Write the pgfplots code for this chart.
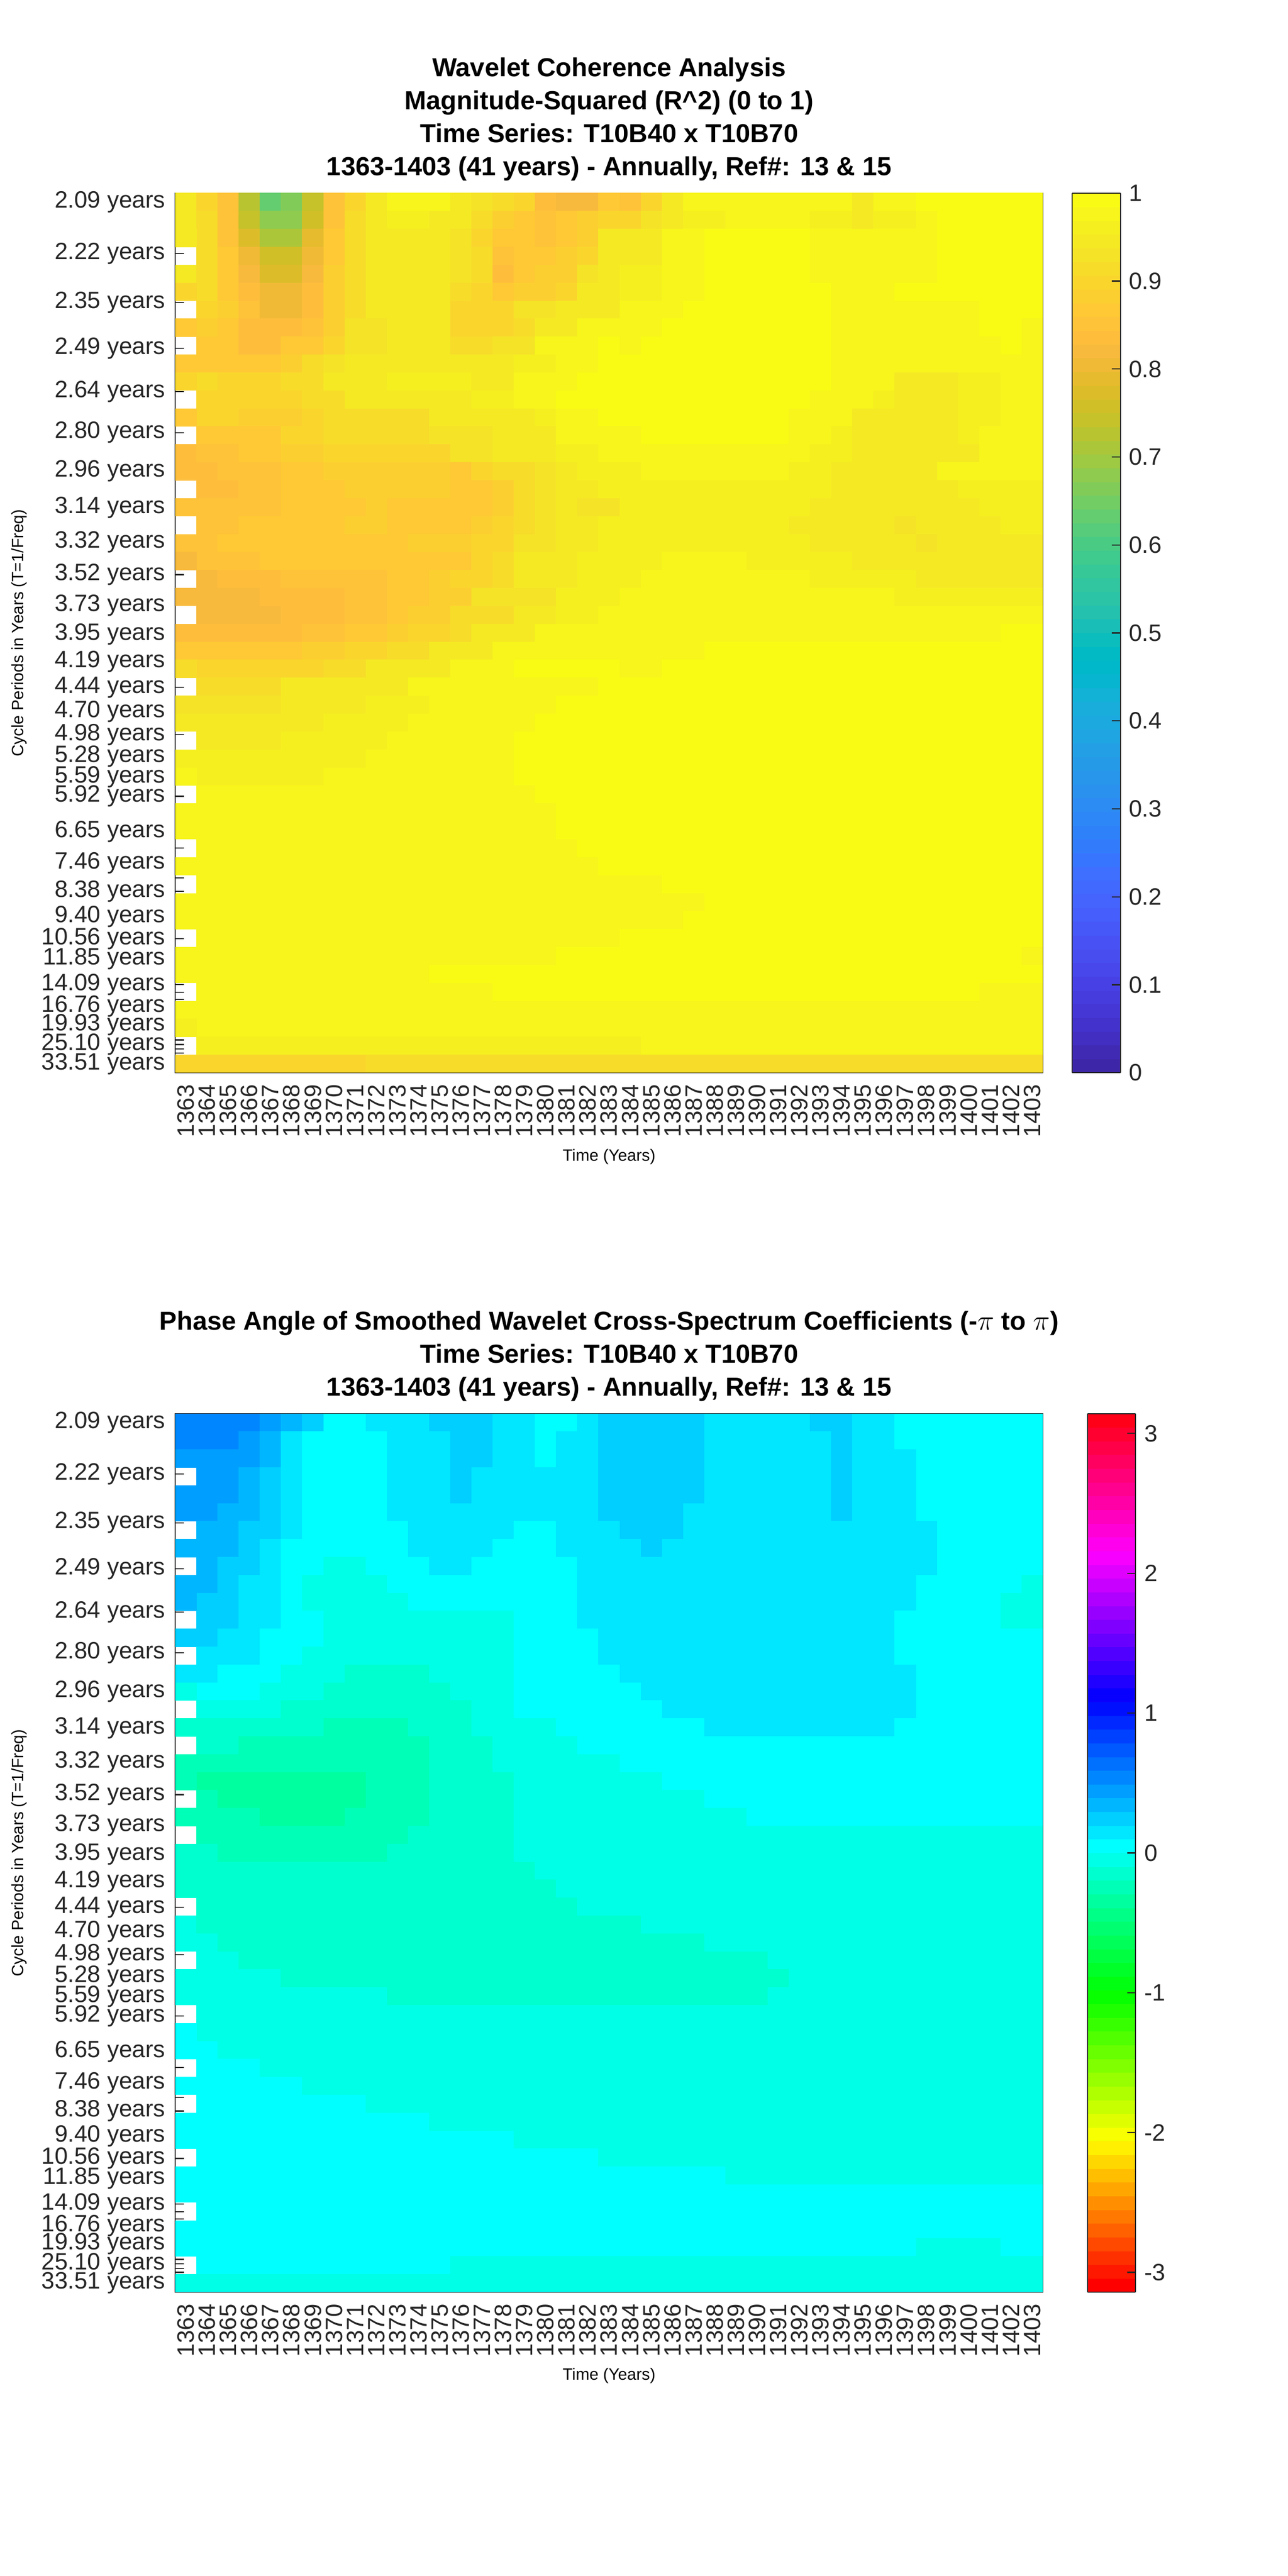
\documentclass[border=0pt]{standalone}
\usepackage{fontspec}
\setmainfont{Liberation Sans}
\usepackage{pgfplots}
\usepackage{pgfplotstable}
\pgfplotsset{compat=1.18}
\definecolor{ax}{rgb}{0.15,0.15,0.15}
\pgfdeclareplotmark{cell}{\pgfpathrectangle{\pgfpoint{-6.495bp}{-5.52bp}}{\pgfpoint{12.99bp}{11.04bp}}\pgfusepathqfill}
\pgfplotsset{
 colormap={parula}{
 rgb=(0.2422,0.1504,0.6603) rgb=(0.2504,0.1650,0.7076) rgb=(0.2578,0.1818,0.7511) rgb=(0.2647,0.1978,0.7952)
 rgb=(0.2706,0.2147,0.8364) rgb=(0.2751,0.2342,0.8710) rgb=(0.2783,0.2559,0.8991) rgb=(0.2803,0.2782,0.9221)
 rgb=(0.2813,0.3006,0.9414) rgb=(0.2810,0.3228,0.9579) rgb=(0.2795,0.3447,0.9717) rgb=(0.2760,0.3667,0.9829)
 rgb=(0.2699,0.3892,0.9906) rgb=(0.2602,0.4123,0.9952) rgb=(0.2440,0.4358,0.9988) rgb=(0.2206,0.4603,0.9973)
 rgb=(0.1963,0.4847,0.9892) rgb=(0.1834,0.5074,0.9798) rgb=(0.1786,0.5289,0.9682) rgb=(0.1764,0.5499,0.9520)
 rgb=(0.1687,0.5703,0.9359) rgb=(0.1540,0.5902,0.9218) rgb=(0.1460,0.6091,0.9079) rgb=(0.1380,0.6276,0.8973)
 rgb=(0.1248,0.6459,0.8883) rgb=(0.1113,0.6635,0.8763) rgb=(0.0952,0.6798,0.8598) rgb=(0.0689,0.6948,0.8394)
 rgb=(0.0297,0.7082,0.8163) rgb=(0.0036,0.7203,0.7917) rgb=(0.0067,0.7312,0.7660) rgb=(0.0433,0.7411,0.7394)
 rgb=(0.0964,0.7500,0.7120) rgb=(0.1408,0.7584,0.6842) rgb=(0.1717,0.7670,0.6554) rgb=(0.1938,0.7758,0.6251)
 rgb=(0.2161,0.7843,0.5923) rgb=(0.2470,0.7918,0.5567) rgb=(0.2906,0.7973,0.5188) rgb=(0.3406,0.8008,0.4789)
 rgb=(0.3909,0.8029,0.4354) rgb=(0.4456,0.8024,0.3909) rgb=(0.5044,0.7993,0.3480) rgb=(0.5616,0.7942,0.3045)
 rgb=(0.6174,0.7876,0.2612) rgb=(0.6720,0.7793,0.2227) rgb=(0.7242,0.7698,0.1910) rgb=(0.7738,0.7598,0.1646)
 rgb=(0.8203,0.7498,0.1535) rgb=(0.8634,0.7406,0.1596) rgb=(0.9035,0.7330,0.1774) rgb=(0.9393,0.7288,0.2100)
 rgb=(0.9728,0.7298,0.2394) rgb=(0.9956,0.7434,0.2371) rgb=(0.9970,0.7659,0.2199) rgb=(0.9952,0.7893,0.2028)
 rgb=(0.9892,0.8136,0.1885) rgb=(0.9786,0.8386,0.1766) rgb=(0.9676,0.8639,0.1643) rgb=(0.9610,0.8890,0.1537)
 rgb=(0.9597,0.9135,0.1423) rgb=(0.9628,0.9373,0.1265) rgb=(0.9691,0.9606,0.1064) rgb=(0.9769,0.9839,0.0805)},
 colormap={hsvm}{
 rgb=(1,0,0) rgb=(1,0.09375,0) rgb=(1,0.1875,0) rgb=(1,0.28125,0) rgb=(1,0.375,0) rgb=(1,0.46875,0) rgb=(1,0.5625,0) rgb=(1,0.65625,0)
 rgb=(1,0.75,0) rgb=(1,0.84375,0) rgb=(1,0.9375,0) rgb=(0.96875,1,0) rgb=(0.875,1,0) rgb=(0.78125,1,0) rgb=(0.6875,1,0) rgb=(0.59375,1,0)
 rgb=(0.5,1,0) rgb=(0.40625,1,0) rgb=(0.3125,1,0) rgb=(0.21875,1,0) rgb=(0.125,1,0) rgb=(0.03125,1,0) rgb=(0,1,0.0625) rgb=(0,1,0.15625)
 rgb=(0,1,0.25) rgb=(0,1,0.34375) rgb=(0,1,0.4375) rgb=(0,1,0.53125) rgb=(0,1,0.625) rgb=(0,1,0.71875) rgb=(0,1,0.8125) rgb=(0,1,0.90625)
 rgb=(0,1,1) rgb=(0,0.90625,1) rgb=(0,0.8125,1) rgb=(0,0.71875,1) rgb=(0,0.625,1) rgb=(0,0.53125,1) rgb=(0,0.4375,1) rgb=(0,0.34375,1)
 rgb=(0,0.25,1) rgb=(0,0.15625,1) rgb=(0,0.0625,1) rgb=(0.03125,0,1) rgb=(0.125,0,1) rgb=(0.21875,0,1) rgb=(0.3125,0,1) rgb=(0.40625,0,1)
 rgb=(0.5,0,1) rgb=(0.59375,0,1) rgb=(0.6875,0,1) rgb=(0.78125,0,1) rgb=(0.875,0,1) rgb=(0.96875,0,1) rgb=(1,0,0.9375) rgb=(1,0,0.84375)
 rgb=(1,0,0.75) rgb=(1,0,0.65625) rgb=(1,0,0.5625) rgb=(1,0,0.46875) rgb=(1,0,0.375) rgb=(1,0,0.28125) rgb=(1,0,0.1875) rgb=(1,0,0.09375)},
 wave/.style={
  scale only axis, width=526.375bp,
  xmin=1362.5, xmax=1403.5, ymin=-0.5, ymax=48.5, y dir=reverse,
  axis on top, axis line style={ax,line width=0.6bp},
  tick align=inside, tick pos=both, xticklabel pos=bottom, yticklabel pos=left,
  major tick length=5.25bp, every tick/.style={ax,line width=0.7bp},
  xtick={1363,...,1403},
  xticklabels={1363,1364,1365,1366,1367,1368,1369,1370,1371,1372,1373,1374,1375,1376,1377,1378,1379,1380,1381,1382,1383,1384,1385,1386,1387,1388,1389,1390,1391,1392,1393,1394,1395,1396,1397,1398,1399,1400,1401,1402,1403},
  xticklabel style={rotate=90,anchor=east,inner sep=0pt,xshift=-7bp,font=\fontsize{14.35bp}{16bp}\selectfont,text=ax},
  ytick={0,2.874,5.586,8.146,10.563,12.843,14.996,17.028,18.946,20.756,22.465,24.078,25.6,27.037,28.393,29.673,30.881,32.022,33.098,34.114,35.073,35.978,36.832,37.639,38.4,39.118,39.797,40.437,41.040,41.611,42.149,42.657,43.137,43.589,44.016,44.420,44.8,45.159,45.498,45.818,46.120,46.406,46.674,46.928,47.168,47.394,47.608,47.810,48},
  yticklabels={2.09 years,2.22 years,2.35 years,2.49 years,2.64 years,2.80 years,2.96 years,3.14 years,3.32 years,3.52 years,3.73 years,3.95 years,4.19 years,4.44 years,4.70 years,4.98 years,5.28 years,5.59 years,5.92 years,,6.65 years,,7.46 years,,8.38 years,,9.40 years,,10.56 years,,11.85 years,,,14.09 years,,,16.76 years,,,19.93 years,,,,25.10 years,,,,,33.51 years},
  yticklabel style={font=\fontsize{14.35bp}{16bp}\selectfont,text=ax,inner sep=0pt,xshift=-6bp},
  xlabel={Time (Years)}, ylabel={Cycle Periods in Years (T=1/Freq)},
  label style={font=\fontsize{15.8bp}{18bp}\selectfont,text=ax},
  every axis x label/.style={at={(axis description cs:0.5,-0.0953)},anchor=center},
  every axis y label/.style={at={(axis description cs:-0.180,0.5)},rotate=90,anchor=center},
  title style={align=center,inner sep=0pt,anchor=south,at={(0.5,1)},yshift=1.3bp,font=\bfseries\fontsize{15.8bp}{20bp}\selectfont},
  colormap access=piecewise constant,
  colorbar sampled,
  colorbar shift/.style={xshift=17.4bp},
  colorbar style={samples=65,width=29.3bp,
    axis line style={ax,line width=0.6bp},
    tick align=inside, ytick pos=right, yticklabel pos=right,
    major tick length=5.25bp, every tick/.style={ax,line width=0.7bp},
    yticklabel style={font=\fontsize{14.35bp}{16bp}\selectfont,text=ax,inner sep=0pt,xshift=5bp}},
 },
 cone/.style={white,line width=2.3bp,dash pattern=on 7.6bp off 7.4bp},
}
\pgfplotstableread{
x r
1364.55 -0.5
1364.71 4.65
1364.79 7.54
1364.89 10.45
1364.99 14.0
1365.14 16.42
1365.34 18.81
1365.54 21.63
1365.78 24.68
1366.08 27.49
1366.38 29.37
1366.64 31.01
1366.89 32.41
1367.13 33.70
1367.49 35.24
1367.93 36.64
1368.43 38.16
1369.02 39.57
1369.68 40.86
1370.41 42.03
1371.31 43.09
1372.20 43.90
1373.29 44.80
1374.49 45.43
1375.68 45.90
1377.07 46.44
1378.46 46.91
1380.05 47.26
1381.64 47.49
1383.03 47.62
1383.62 47.54
1385.45 47.14
1387.46 46.49
1389.48 45.67
1391.10 45.08
1392.91 43.67
1394.53 42.62
1395.94 40.98
1397.15 38.87
1397.96 36.99
1398.56 34.30
1399.07 32.53
1399.47 30.07
1399.88 28.21
1400.14 25.26
1400.38 22.33
1400.58 19.52
1400.78 17.86
1400.99 14.97
1401.09 10.78
1401.19 7.87
1401.29 4.65
1401.35 1.91
1401.38 0.13
}\coi
\begin{document}
\begin{tikzpicture}
\path[use as bounding box] (0,0) rectangle (781.25bp,1563bp);
\begin{axis}[wave, at={(106.375bp,912.1bp)}, anchor=south west, height=533.75bp,
 colormap name=parula, point meta min=0, point meta max=1,
 colorbar style={ytick={0,0.1,...,1},yticklabels={0,0.1,0.2,0.3,0.4,0.5,0.6,0.7,0.8,0.9,1}},
 title={Wavelet Coherence Analysis\\Magnitude-Squared (R\textasciicircum 2) (0 to 1)\\Time Series: T10B40 x T10B70\\1363-1403 (41 years) - Annually, Ref\#: 13 \& 15}]
\addplot[scatter,only marks,mark=cell,scatter src=explicit] table[row sep=\\,header=false,x expr={1363+mod(\coordindex,41)},y expr={floor(\coordindex/41)},meta expr=\thisrowno{0}/100]{
94\\90\\85\\72\\64\\66\\74\\85\\90\\95\\98\\98\\97\\95\\93\\92\\90\\84\\82\\82\\87\\85\\90\\95\\97\\97\\98\\98\\98\\97\\97\\97\\95\\97\\98\\99\\99\\99\\99\\99\\99\\
94\\92\\85\\74\\68\\68\\76\\85\\92\\95\\96\\96\\95\\95\\92\\88\\86\\85\\87\\88\\90\\90\\93\\95\\96\\96\\97\\97\\97\\97\\96\\96\\95\\96\\96\\97\\99\\99\\99\\99\\99\\
94\\91\\85\\78\\71\\71\\79\\87\\91\\95\\95\\95\\95\\93\\90\\87\\87\\85\\86\\88\\94\\94\\95\\97\\97\\99\\99\\99\\99\\99\\97\\97\\97\\97\\98\\98\\99\\99\\99\\99\\99\\
94\\92\\87\\81\\75\\75\\81\\87\\92\\95\\95\\95\\95\\93\\91\\85\\87\\87\\88\\90\\94\\94\\95\\97\\97\\99\\99\\99\\99\\99\\98\\97\\97\\97\\98\\98\\99\\99\\99\\99\\99\\
94\\92\\87\\82\\78\\78\\82\\88\\92\\95\\95\\95\\95\\93\\91\\84\\87\\88\\88\\93\\95\\96\\96\\97\\97\\99\\99\\99\\99\\99\\98\\98\\98\\98\\98\\98\\99\\99\\99\\99\\99\\
92\\91\\87\\84\\80\\80\\84\\88\\91\\95\\95\\95\\95\\92\\90\\87\\88\\88\\90\\94\\95\\96\\96\\97\\97\\99\\99\\99\\99\\99\\99\\98\\98\\98\\99\\99\\99\\99\\99\\99\\99\\
90\\90\\88\\85\\80\\80\\84\\88\\92\\94\\95\\95\\95\\90\\90\\90\\93\\93\\94\\95\\95\\97\\97\\97\\99\\99\\99\\99\\99\\99\\99\\98\\98\\98\\98\\98\\98\\98\\99\\99\\99\\
87\\88\\87\\84\\84\\84\\85\\88\\93\\93\\95\\95\\95\\90\\90\\90\\92\\95\\95\\97\\97\\98\\98\\99\\99\\99\\99\\99\\99\\99\\99\\98\\98\\98\\98\\98\\98\\98\\99\\99\\98\\
87\\86\\86\\84\\84\\86\\87\\90\\93\\93\\95\\95\\95\\92\\92\\93\\93\\97\\98\\98\\99\\98\\99\\99\\99\\99\\99\\99\\99\\99\\99\\98\\98\\98\\98\\98\\98\\98\\98\\99\\98\\
87\\87\\87\\87\\87\\88\\92\\93\\94\\94\\95\\95\\95\\94\\94\\94\\96\\96\\98\\98\\99\\99\\99\\99\\99\\99\\99\\99\\99\\99\\99\\98\\98\\98\\97\\97\\97\\97\\98\\98\\97\\
92\\91\\90\\90\\90\\91\\91\\94\\94\\95\\96\\96\\96\\96\\95\\95\\97\\97\\98\\99\\99\\99\\99\\99\\99\\99\\99\\99\\99\\99\\99\\98\\98\\97\\95\\95\\95\\96\\96\\97\\97\\
90\\90\\90\\90\\90\\90\\92\\92\\94\\95\\95\\95\\95\\95\\96\\96\\97\\97\\99\\99\\99\\99\\99\\99\\99\\99\\99\\99\\99\\99\\98\\98\\98\\96\\95\\95\\95\\96\\96\\97\\97\\
90\\90\\90\\88\\88\\88\\90\\92\\91\\91\\92\\92\\94\\94\\95\\95\\95\\96\\97\\97\\99\\99\\99\\99\\99\\99\\99\\99\\99\\98\\98\\98\\95\\95\\95\\95\\95\\96\\96\\97\\97\\
86\\86\\86\\87\\87\\90\\90\\92\\92\\92\\92\\92\\93\\93\\93\\95\\95\\95\\97\\97\\98\\97\\99\\99\\99\\99\\99\\99\\99\\97\\97\\96\\95\\95\\95\\95\\95\\96\\97\\97\\97\\
84\\85\\85\\87\\87\\88\\88\\90\\90\\90\\90\\90\\90\\93\\93\\94\\94\\95\\96\\96\\98\\97\\97\\97\\97\\97\\97\\97\\97\\97\\96\\96\\95\\95\\95\\95\\95\\95\\97\\97\\97\\
84\\84\\85\\85\\85\\87\\87\\88\\88\\88\\88\\88\\88\\87\\90\\92\\92\\93\\94\\96\\96\\96\\97\\97\\97\\97\\97\\97\\97\\96\\96\\95\\95\\95\\95\\95\\97\\97\\97\\97\\97\\
84\\84\\84\\85\\85\\87\\87\\87\\88\\88\\88\\88\\88\\87\\87\\88\\92\\93\\95\\94\\96\\96\\96\\96\\96\\96\\96\\96\\96\\96\\96\\95\\95\\95\\95\\95\\95\\96\\96\\96\\96\\
85\\85\\85\\85\\85\\87\\87\\87\\87\\88\\86\\86\\86\\87\\87\\88\\92\\93\\94\\93\\93\\96\\96\\96\\96\\96\\96\\96\\96\\96\\95\\95\\95\\95\\95\\95\\95\\94\\96\\96\\96\\
85\\85\\85\\86\\86\\86\\86\\86\\88\\88\\86\\86\\87\\87\\88\\90\\91\\93\\95\\95\\96\\96\\96\\96\\96\\96\\96\\96\\96\\94\\95\\95\\95\\95\\93\\95\\95\\95\\95\\96\\96\\
85\\85\\86\\86\\86\\86\\86\\86\\86\\86\\86\\88\\88\\88\\90\\90\\93\\93\\95\\94\\96\\96\\96\\96\\96\\96\\96\\96\\96\\96\\95\\95\\95\\95\\95\\93\\95\\95\\95\\94\\94\\
84\\85\\85\\85\\86\\86\\86\\86\\86\\86\\86\\86\\87\\87\\90\\91\\94\\94\\94\\96\\96\\96\\96\\97\\97\\97\\97\\96\\96\\96\\96\\96\\95\\95\\95\\95\\95\\95\\95\\94\\94\\
82\\82\\84\\84\\84\\85\\85\\85\\85\\85\\86\\86\\88\\90\\90\\91\\94\\94\\94\\96\\96\\96\\97\\97\\97\\97\\97\\97\\97\\97\\96\\96\\96\\96\\96\\94\\94\\94\\94\\94\\94\\
79\\82\\82\\82\\84\\84\\84\\84\\85\\85\\86\\86\\88\\88\\93\\93\\93\\93\\96\\96\\96\\97\\97\\97\\97\\97\\97\\97\\97\\97\\97\\97\\97\\97\\96\\96\\96\\96\\96\\96\\96\\
82\\82\\82\\82\\82\\84\\84\\84\\85\\85\\86\\88\\88\\91\\91\\91\\94\\94\\96\\96\\98\\97\\97\\97\\97\\97\\97\\97\\97\\97\\97\\97\\97\\97\\97\\97\\97\\97\\97\\97\\97\\
84\\84\\84\\84\\84\\84\\85\\85\\87\\87\\88\\90\\90\\91\\94\\94\\94\\97\\97\\98\\98\\97\\97\\97\\97\\97\\97\\97\\97\\97\\97\\97\\97\\97\\97\\97\\97\\97\\97\\99\\99\\
87\\87\\87\\87\\87\\87\\88\\88\\90\\90\\91\\91\\95\\95\\95\\97\\97\\97\\98\\98\\98\\97\\97\\97\\97\\99\\99\\99\\99\\99\\99\\99\\99\\99\\99\\99\\99\\99\\99\\99\\99\\
90\\90\\90\\90\\90\\90\\90\\91\\91\\94\\94\\95\\95\\97\\97\\97\\99\\99\\99\\99\\99\\97\\97\\99\\99\\99\\99\\99\\99\\99\\99\\99\\99\\99\\99\\99\\99\\99\\99\\99\\99\\
92\\92\\92\\92\\92\\94\\94\\94\\95\\95\\95\\97\\97\\97\\98\\98\\98\\98\\98\\98\\99\\99\\99\\99\\99\\99\\99\\99\\99\\99\\99\\99\\99\\99\\99\\99\\99\\99\\99\\99\\99\\
93\\93\\93\\93\\93\\94\\94\\94\\94\\96\\96\\96\\98\\98\\98\\98\\98\\98\\99\\99\\99\\99\\99\\99\\99\\99\\99\\99\\99\\99\\99\\99\\99\\99\\99\\99\\99\\99\\99\\99\\99\\
94\\94\\94\\94\\94\\94\\94\\96\\96\\96\\96\\98\\98\\98\\98\\98\\98\\99\\99\\99\\99\\99\\99\\99\\99\\99\\99\\99\\99\\99\\99\\99\\99\\99\\99\\99\\99\\99\\99\\99\\99\\
94\\94\\94\\94\\94\\96\\96\\96\\96\\96\\98\\98\\98\\98\\98\\98\\99\\99\\99\\99\\99\\99\\99\\99\\99\\99\\99\\99\\99\\99\\99\\99\\99\\99\\99\\99\\99\\99\\99\\99\\99\\
94\\96\\96\\96\\96\\96\\96\\96\\96\\98\\98\\98\\98\\98\\98\\98\\99\\99\\99\\99\\99\\99\\99\\99\\99\\99\\99\\99\\99\\99\\99\\99\\99\\99\\99\\99\\99\\99\\99\\99\\99\\
96\\96\\96\\96\\96\\96\\96\\98\\98\\98\\98\\98\\98\\98\\98\\98\\99\\99\\99\\99\\99\\99\\99\\99\\99\\99\\99\\99\\99\\99\\99\\99\\99\\99\\99\\99\\99\\99\\99\\99\\99\\
98\\98\\98\\98\\98\\98\\98\\98\\98\\98\\98\\98\\98\\98\\98\\98\\98\\99\\99\\99\\99\\99\\99\\99\\99\\99\\99\\99\\99\\99\\99\\99\\99\\99\\99\\99\\99\\99\\99\\99\\99\\
98\\98\\98\\98\\98\\98\\98\\98\\98\\98\\98\\98\\98\\98\\98\\98\\98\\98\\99\\99\\99\\99\\99\\99\\99\\99\\99\\99\\99\\99\\99\\99\\99\\99\\99\\99\\99\\99\\99\\99\\99\\
98\\98\\98\\98\\98\\98\\98\\98\\98\\98\\98\\98\\98\\98\\98\\98\\98\\98\\99\\99\\99\\99\\99\\99\\99\\99\\99\\99\\99\\99\\99\\99\\99\\99\\99\\99\\99\\99\\99\\99\\99\\
98\\98\\98\\98\\98\\98\\98\\98\\98\\98\\98\\98\\98\\98\\98\\98\\98\\98\\98\\99\\99\\99\\99\\99\\99\\99\\99\\99\\99\\99\\99\\99\\99\\99\\99\\99\\99\\99\\99\\99\\99\\
98\\98\\98\\98\\98\\98\\98\\98\\98\\98\\98\\98\\98\\98\\98\\98\\98\\98\\98\\98\\99\\99\\99\\99\\99\\99\\99\\99\\99\\99\\99\\99\\99\\99\\99\\99\\99\\99\\99\\99\\99\\
98\\98\\98\\98\\98\\98\\98\\98\\98\\98\\98\\98\\98\\98\\98\\98\\98\\98\\98\\98\\98\\98\\98\\99\\99\\99\\99\\99\\99\\99\\99\\99\\99\\99\\99\\99\\99\\99\\99\\99\\99\\
98\\98\\98\\98\\98\\98\\98\\98\\98\\98\\98\\98\\98\\98\\98\\98\\98\\98\\98\\98\\98\\98\\98\\98\\98\\99\\99\\99\\99\\99\\99\\99\\99\\99\\99\\99\\99\\99\\99\\99\\99\\
98\\98\\98\\98\\98\\98\\98\\98\\98\\98\\98\\98\\98\\98\\98\\98\\98\\98\\98\\98\\98\\98\\98\\98\\99\\99\\99\\99\\99\\99\\99\\99\\99\\99\\99\\99\\99\\99\\99\\99\\99\\
98\\98\\98\\98\\98\\98\\98\\98\\98\\98\\98\\98\\98\\98\\98\\98\\98\\98\\98\\98\\98\\99\\99\\99\\99\\99\\99\\99\\99\\99\\99\\99\\99\\99\\99\\99\\99\\99\\99\\99\\99\\
98\\98\\98\\98\\98\\98\\98\\98\\98\\98\\98\\98\\98\\98\\98\\98\\98\\98\\99\\99\\99\\99\\99\\99\\99\\99\\99\\99\\99\\99\\99\\99\\99\\99\\99\\99\\99\\99\\99\\99\\98\\
98\\98\\98\\98\\98\\98\\98\\98\\98\\98\\98\\98\\99\\99\\99\\99\\99\\99\\99\\99\\99\\99\\99\\99\\99\\99\\99\\99\\99\\99\\99\\99\\99\\99\\99\\99\\99\\99\\99\\99\\99\\
98\\98\\98\\98\\98\\98\\98\\98\\98\\98\\98\\98\\98\\98\\98\\99\\99\\99\\99\\99\\99\\99\\99\\99\\99\\99\\99\\99\\99\\99\\99\\99\\99\\99\\99\\99\\99\\99\\98\\98\\98\\
98\\98\\98\\98\\98\\98\\98\\98\\98\\98\\98\\98\\98\\98\\98\\98\\98\\98\\98\\98\\98\\98\\98\\98\\98\\98\\98\\98\\98\\98\\98\\98\\98\\98\\98\\98\\98\\98\\98\\98\\98\\
97\\97\\97\\97\\97\\97\\97\\97\\97\\98\\98\\98\\98\\98\\98\\98\\98\\98\\98\\98\\98\\98\\98\\98\\98\\98\\98\\98\\98\\98\\98\\98\\98\\98\\98\\98\\98\\98\\98\\98\\98\\
96\\96\\96\\96\\96\\96\\96\\96\\96\\96\\96\\96\\96\\96\\96\\96\\96\\96\\96\\96\\96\\96\\97\\97\\97\\97\\97\\97\\97\\97\\97\\97\\97\\97\\97\\97\\97\\97\\97\\97\\97\\
90\\90\\90\\90\\90\\90\\90\\90\\90\\91\\91\\91\\91\\91\\91\\91\\91\\91\\91\\91\\92\\92\\92\\92\\92\\92\\92\\92\\92\\92\\92\\92\\92\\92\\92\\92\\92\\92\\92\\92\\92\\
};
\addplot[cone] table[x=x,y=r]{\coi};
\end{axis}
\begin{axis}[wave, at={(106.375bp,172.25bp)}, anchor=south west, height=533bp,
 colormap name=hsvm, point meta min=-3.14159, point meta max=3.14159,
 colorbar style={ytick={-3,-2,-1,0,1,2,3},yticklabels={-3,-2,-1,0,1,2,3}},
 title={Phase Angle of Smoothed Wavelet Cross-Spectrum Coefficients (-$\pi$ to $\pi$)\\Time Series: T10B40 x T10B70\\1363-1403 (41 years) - Annually, Ref\#: 13 \& 15}]
\addplot[scatter,only marks,mark=cell,scatter src=explicit] table[row sep=\\,header=false,x expr={1363+mod(\coordindex,41)},y expr={floor(\coordindex/41)},meta expr=\thisrowno{0}/100]{
54\\54\\54\\54\\44\\34\\25\\5\\5\\15\\15\\15\\25\\25\\25\\15\\15\\5\\5\\15\\25\\25\\25\\25\\25\\15\\15\\15\\15\\15\\25\\25\\15\\15\\5\\5\\5\\5\\5\\5\\5\\
54\\54\\54\\44\\34\\15\\5\\5\\5\\5\\15\\15\\15\\25\\25\\15\\15\\5\\15\\15\\25\\25\\25\\25\\25\\15\\15\\15\\15\\15\\15\\25\\15\\15\\5\\5\\5\\5\\5\\5\\5\\
54\\44\\44\\44\\34\\15\\5\\5\\5\\5\\15\\15\\15\\25\\25\\15\\15\\5\\15\\15\\25\\25\\25\\25\\25\\15\\15\\15\\15\\15\\15\\25\\15\\15\\15\\5\\5\\5\\5\\5\\5\\
44\\44\\44\\34\\25\\15\\5\\5\\5\\5\\15\\15\\15\\25\\15\\15\\15\\15\\15\\15\\25\\25\\25\\25\\25\\15\\15\\15\\15\\15\\15\\25\\15\\15\\15\\5\\5\\5\\5\\5\\5\\
44\\44\\44\\34\\25\\15\\5\\5\\5\\5\\15\\15\\15\\25\\15\\15\\15\\15\\15\\15\\25\\25\\25\\25\\25\\15\\15\\15\\15\\15\\15\\25\\15\\15\\15\\5\\5\\5\\5\\5\\5\\
44\\44\\34\\34\\25\\15\\5\\5\\5\\5\\15\\15\\15\\15\\15\\15\\15\\15\\15\\15\\25\\25\\25\\25\\15\\15\\15\\15\\15\\15\\15\\25\\15\\15\\15\\5\\5\\5\\5\\5\\5\\
44\\34\\34\\25\\25\\15\\5\\5\\5\\5\\5\\15\\15\\15\\15\\15\\5\\5\\15\\15\\15\\25\\25\\25\\15\\15\\15\\15\\15\\15\\15\\15\\15\\15\\15\\15\\5\\5\\5\\5\\5\\
34\\34\\34\\25\\15\\5\\5\\5\\5\\5\\5\\15\\15\\15\\15\\5\\5\\5\\15\\15\\15\\15\\25\\15\\15\\15\\15\\15\\15\\15\\15\\15\\15\\15\\15\\15\\5\\5\\5\\5\\5\\
34\\34\\25\\25\\15\\5\\5\\-5\\-5\\5\\5\\5\\15\\15\\5\\5\\5\\5\\5\\15\\15\\15\\15\\15\\15\\15\\15\\15\\15\\15\\15\\15\\15\\15\\15\\15\\5\\5\\5\\5\\5\\
34\\34\\25\\15\\15\\5\\-5\\-5\\-5\\-5\\5\\5\\5\\5\\5\\5\\5\\5\\5\\15\\15\\15\\15\\15\\15\\15\\15\\15\\15\\15\\15\\15\\15\\15\\15\\5\\5\\5\\5\\5\\-5\\
34\\25\\25\\15\\15\\5\\-5\\-5\\-5\\-5\\-5\\5\\5\\5\\5\\5\\5\\5\\5\\15\\15\\15\\15\\15\\15\\15\\15\\15\\15\\15\\15\\15\\15\\15\\15\\5\\5\\5\\5\\-5\\-5\\
34\\25\\25\\15\\15\\5\\5\\-5\\-5\\-5\\-5\\-5\\-5\\-5\\-5\\-5\\5\\5\\5\\15\\15\\15\\15\\15\\15\\15\\15\\15\\15\\15\\15\\15\\15\\15\\5\\5\\5\\5\\5\\-5\\-5\\
25\\25\\15\\15\\5\\5\\5\\-5\\-5\\-5\\-5\\-5\\-5\\-5\\-5\\-5\\5\\5\\5\\5\\15\\15\\15\\15\\15\\15\\15\\15\\15\\15\\15\\15\\15\\15\\5\\5\\5\\5\\5\\5\\5\\
25\\15\\15\\15\\5\\5\\-5\\-5\\-5\\-5\\-5\\-5\\-5\\-5\\-5\\-5\\5\\5\\5\\5\\15\\15\\15\\15\\15\\15\\15\\15\\15\\15\\15\\15\\15\\15\\5\\5\\5\\5\\5\\5\\5\\
15\\15\\5\\5\\5\\-5\\-5\\-5\\-15\\-15\\-15\\-15\\-5\\-5\\-5\\-5\\5\\5\\5\\5\\5\\15\\15\\15\\15\\15\\15\\15\\15\\15\\15\\15\\15\\15\\15\\5\\5\\5\\5\\5\\5\\
5\\5\\5\\5\\-5\\-5\\-5\\-15\\-15\\-15\\-15\\-15\\-15\\-5\\-5\\-5\\5\\5\\5\\5\\5\\5\\15\\15\\15\\15\\15\\15\\15\\15\\15\\15\\15\\15\\15\\5\\5\\5\\5\\5\\5\\
-5\\-5\\-5\\-5\\-5\\-15\\-15\\-15\\-15\\-15\\-15\\-15\\-15\\-15\\-5\\-5\\5\\5\\5\\5\\5\\5\\5\\15\\15\\15\\15\\15\\15\\15\\15\\15\\15\\15\\15\\5\\5\\5\\5\\5\\5\\
-15\\-15\\-15\\-15\\-15\\-15\\-15\\-25\\-25\\-25\\-25\\-15\\-15\\-15\\-5\\-5\\-5\\-5\\5\\5\\5\\5\\5\\5\\5\\15\\15\\15\\15\\15\\15\\15\\15\\15\\5\\5\\5\\5\\5\\5\\5\\
-15\\-15\\-15\\-25\\-25\\-25\\-25\\-25\\-25\\-25\\-25\\-25\\-15\\-15\\-15\\-5\\-5\\-5\\-5\\5\\5\\5\\5\\5\\5\\5\\5\\5\\5\\5\\5\\5\\5\\5\\5\\5\\5\\5\\5\\5\\5\\
-25\\-25\\-25\\-25\\-25\\-25\\-25\\-25\\-25\\-25\\-25\\-25\\-15\\-15\\-15\\-5\\-5\\-5\\-5\\-5\\-5\\5\\5\\5\\5\\5\\5\\5\\5\\5\\5\\5\\5\\5\\5\\5\\5\\5\\5\\5\\5\\
-25\\-34\\-34\\-34\\-34\\-34\\-34\\-34\\-34\\-25\\-25\\-25\\-15\\-15\\-15\\-15\\-5\\-5\\-5\\-5\\-5\\-5\\-5\\5\\5\\5\\5\\5\\5\\5\\5\\5\\5\\5\\5\\5\\5\\5\\5\\5\\5\\
-25\\-25\\-34\\-34\\-34\\-34\\-34\\-34\\-34\\-25\\-25\\-25\\-15\\-15\\-15\\-15\\-5\\-5\\-5\\-5\\-5\\-5\\-5\\-5\\-5\\5\\5\\5\\5\\5\\5\\5\\5\\5\\5\\5\\5\\5\\5\\5\\5\\
-25\\-25\\-25\\-25\\-34\\-34\\-34\\-34\\-25\\-25\\-25\\-25\\-15\\-15\\-15\\-15\\-5\\-5\\-5\\-5\\-5\\-5\\-5\\-5\\-5\\-5\\-5\\5\\5\\5\\5\\5\\5\\5\\5\\5\\5\\5\\5\\5\\5\\
-25\\-25\\-25\\-25\\-25\\-25\\-25\\-25\\-25\\-25\\-25\\-15\\-15\\-15\\-15\\-15\\-5\\-5\\-5\\-5\\-5\\-5\\-5\\-5\\-5\\-5\\-5\\-5\\-5\\-5\\-5\\-5\\-5\\-5\\-5\\-5\\-5\\-5\\-5\\-5\\-5\\
-15\\-15\\-25\\-25\\-25\\-25\\-25\\-25\\-25\\-25\\-15\\-15\\-15\\-15\\-15\\-15\\-5\\-5\\-5\\-5\\-5\\-5\\-5\\-5\\-5\\-5\\-5\\-5\\-5\\-5\\-5\\-5\\-5\\-5\\-5\\-5\\-5\\-5\\-5\\-5\\-5\\
-15\\-15\\-15\\-15\\-15\\-15\\-15\\-15\\-15\\-15\\-15\\-15\\-15\\-15\\-15\\-15\\-15\\-5\\-5\\-5\\-5\\-5\\-5\\-5\\-5\\-5\\-5\\-5\\-5\\-5\\-5\\-5\\-5\\-5\\-5\\-5\\-5\\-5\\-5\\-5\\-5\\
-15\\-15\\-15\\-15\\-15\\-15\\-15\\-15\\-15\\-15\\-15\\-15\\-15\\-15\\-15\\-15\\-15\\-15\\-5\\-5\\-5\\-5\\-5\\-5\\-5\\-5\\-5\\-5\\-5\\-5\\-5\\-5\\-5\\-5\\-5\\-5\\-5\\-5\\-5\\-5\\-5\\
-15\\-15\\-15\\-15\\-15\\-15\\-15\\-15\\-15\\-15\\-15\\-15\\-15\\-15\\-15\\-15\\-15\\-15\\-15\\-5\\-5\\-5\\-5\\-5\\-5\\-5\\-5\\-5\\-5\\-5\\-5\\-5\\-5\\-5\\-5\\-5\\-5\\-5\\-5\\-5\\-5\\
-5\\-15\\-15\\-15\\-15\\-15\\-15\\-15\\-15\\-15\\-15\\-15\\-15\\-15\\-15\\-15\\-15\\-15\\-15\\-15\\-15\\-15\\-5\\-5\\-5\\-5\\-5\\-5\\-5\\-5\\-5\\-5\\-5\\-5\\-5\\-5\\-5\\-5\\-5\\-5\\-5\\
-5\\-5\\-15\\-15\\-15\\-15\\-15\\-15\\-15\\-15\\-15\\-15\\-15\\-15\\-15\\-15\\-15\\-15\\-15\\-15\\-15\\-15\\-15\\-15\\-15\\-5\\-5\\-5\\-5\\-5\\-5\\-5\\-5\\-5\\-5\\-5\\-5\\-5\\-5\\-5\\-5\\
-5\\-5\\-5\\-15\\-15\\-15\\-15\\-15\\-15\\-15\\-15\\-15\\-15\\-15\\-15\\-15\\-15\\-15\\-15\\-15\\-15\\-15\\-15\\-15\\-15\\-15\\-15\\-15\\-5\\-5\\-5\\-5\\-5\\-5\\-5\\-5\\-5\\-5\\-5\\-5\\-5\\
-5\\-5\\-5\\-5\\-5\\-15\\-15\\-15\\-15\\-15\\-15\\-15\\-15\\-15\\-15\\-15\\-15\\-15\\-15\\-15\\-15\\-15\\-15\\-15\\-15\\-15\\-15\\-15\\-15\\-5\\-5\\-5\\-5\\-5\\-5\\-5\\-5\\-5\\-5\\-5\\-5\\
-5\\-5\\-5\\-5\\-5\\-5\\-5\\-5\\-5\\-5\\-15\\-15\\-15\\-15\\-15\\-15\\-15\\-15\\-15\\-15\\-15\\-15\\-15\\-15\\-15\\-15\\-15\\-15\\-5\\-5\\-5\\-5\\-5\\-5\\-5\\-5\\-5\\-5\\-5\\-5\\-5\\
-5\\-5\\-5\\-5\\-5\\-5\\-5\\-5\\-5\\-5\\-5\\-5\\-5\\-5\\-5\\-5\\-5\\-5\\-5\\-5\\-5\\-5\\-5\\-5\\-5\\-5\\-5\\-5\\-5\\-5\\-5\\-5\\-5\\-5\\-5\\-5\\-5\\-5\\-5\\-5\\-5\\
-5\\-5\\-5\\-5\\-5\\-5\\-5\\-5\\-5\\-5\\-5\\-5\\-5\\-5\\-5\\-5\\-5\\-5\\-5\\-5\\-5\\-5\\-5\\-5\\-5\\-5\\-5\\-5\\-5\\-5\\-5\\-5\\-5\\-5\\-5\\-5\\-5\\-5\\-5\\-5\\-5\\
5\\5\\-5\\-5\\-5\\-5\\-5\\-5\\-5\\-5\\-5\\-5\\-5\\-5\\-5\\-5\\-5\\-5\\-5\\-5\\-5\\-5\\-5\\-5\\-5\\-5\\-5\\-5\\-5\\-5\\-5\\-5\\-5\\-5\\-5\\-5\\-5\\-5\\-5\\-5\\-5\\
5\\5\\5\\5\\-5\\-5\\-5\\-5\\-5\\-5\\-5\\-5\\-5\\-5\\-5\\-5\\-5\\-5\\-5\\-5\\-5\\-5\\-5\\-5\\-5\\-5\\-5\\-5\\-5\\-5\\-5\\-5\\-5\\-5\\-5\\-5\\-5\\-5\\-5\\-5\\-5\\
5\\5\\5\\5\\5\\5\\-5\\-5\\-5\\-5\\-5\\-5\\-5\\-5\\-5\\-5\\-5\\-5\\-5\\-5\\-5\\-5\\-5\\-5\\-5\\-5\\-5\\-5\\-5\\-5\\-5\\-5\\-5\\-5\\-5\\-5\\-5\\-5\\-5\\-5\\-5\\
5\\5\\5\\5\\5\\5\\5\\5\\5\\-5\\-5\\-5\\-5\\-5\\-5\\-5\\-5\\-5\\-5\\-5\\-5\\-5\\-5\\-5\\-5\\-5\\-5\\-5\\-5\\-5\\-5\\-5\\-5\\-5\\-5\\-5\\-5\\-5\\-5\\-5\\-5\\
5\\5\\5\\5\\5\\5\\5\\5\\5\\5\\5\\5\\-5\\-5\\-5\\-5\\-5\\-5\\-5\\-5\\-5\\-5\\-5\\-5\\-5\\-5\\-5\\-5\\-5\\-5\\-5\\-5\\-5\\-5\\-5\\-5\\-5\\-5\\-5\\-5\\-5\\
5\\5\\5\\5\\5\\5\\5\\5\\5\\5\\5\\5\\5\\5\\5\\5\\-5\\-5\\-5\\-5\\-5\\-5\\-5\\-5\\-5\\-5\\-5\\-5\\-5\\-5\\-5\\-5\\-5\\-5\\-5\\-5\\-5\\-5\\-5\\-5\\-5\\
5\\5\\5\\5\\5\\5\\5\\5\\5\\5\\5\\5\\5\\5\\5\\5\\5\\5\\5\\5\\-5\\-5\\-5\\-5\\-5\\-5\\-5\\-5\\-5\\-5\\-5\\-5\\-5\\-5\\-5\\-5\\-5\\-5\\-5\\-5\\-5\\
5\\5\\5\\5\\5\\5\\5\\5\\5\\5\\5\\5\\5\\5\\5\\5\\5\\5\\5\\5\\5\\5\\5\\5\\5\\5\\-5\\-5\\-5\\-5\\-5\\-5\\-5\\-5\\-5\\-5\\-5\\-5\\-5\\-5\\-5\\
5\\5\\5\\5\\5\\5\\5\\5\\5\\5\\5\\5\\5\\5\\5\\5\\5\\5\\5\\5\\5\\5\\5\\5\\5\\5\\5\\5\\5\\5\\5\\5\\5\\5\\5\\5\\5\\5\\5\\5\\5\\
5\\5\\5\\5\\5\\5\\5\\5\\5\\5\\5\\5\\5\\5\\5\\5\\5\\5\\5\\5\\5\\5\\5\\5\\5\\5\\5\\5\\5\\5\\5\\5\\5\\5\\5\\5\\5\\5\\5\\5\\5\\
5\\5\\5\\5\\5\\5\\5\\5\\5\\5\\5\\5\\5\\5\\5\\5\\5\\5\\5\\5\\5\\5\\5\\5\\5\\5\\5\\5\\5\\5\\5\\5\\5\\5\\5\\5\\5\\5\\5\\5\\5\\
5\\5\\5\\5\\5\\5\\5\\5\\5\\5\\5\\5\\5\\5\\5\\5\\5\\5\\5\\5\\5\\5\\5\\5\\5\\5\\5\\5\\5\\5\\5\\5\\5\\5\\5\\-5\\-5\\-5\\-5\\5\\5\\
5\\5\\5\\5\\5\\5\\5\\5\\5\\5\\5\\5\\5\\-5\\-5\\-5\\-5\\-5\\-5\\-5\\-5\\-5\\-5\\-5\\-5\\-5\\-5\\-5\\-5\\-5\\-5\\-5\\-5\\-5\\-5\\-5\\-5\\-5\\-5\\-5\\-5\\
-5\\-5\\-5\\-5\\-5\\-5\\-5\\-5\\-5\\-5\\-5\\-5\\-5\\-5\\-5\\-5\\-5\\-5\\-5\\-5\\-5\\-5\\-5\\-5\\-5\\-5\\-5\\-5\\-5\\-5\\-5\\-5\\-5\\-5\\-5\\-5\\-5\\-5\\-5\\-5\\-5\\
};
\addplot[cone] table[x=x,y=r]{\coi};
\end{axis}
\end{tikzpicture}
\end{document}
